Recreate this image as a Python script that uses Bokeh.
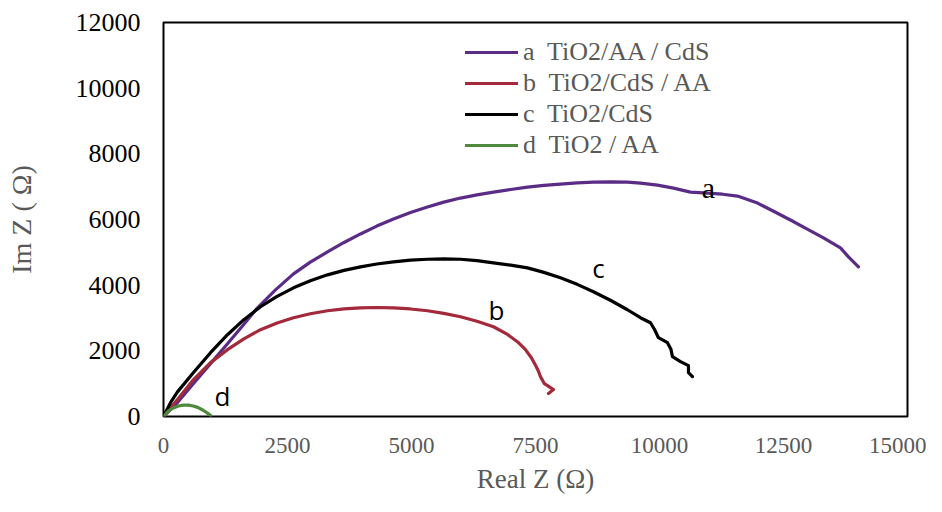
from bokeh.plotting import figure
from bokeh.models import FixedTicker, Legend, LegendItem, Range1d
from bokeh.core.properties import value
from bokeh.embed import file_html
from bokeh.resources import INLINE

# Series a: TiO2/AA / CdS
a_x = [0, 282, 605, 948, 1290, 1613, 1895, 2258, 2621, 2960, 3306, 3640, 3972, 4300, 4637,
       4980, 5322, 5650, 5988, 6320, 6653, 7000, 7338, 7670, 8003, 8340, 8668, 9010, 9354,
       9616, 9959, 10282, 10624, 10967, 11270, 11572, 11975, 12300, 12640, 12970, 13306,
       13648, 13810, 14011]
a_y = [0, 425, 1003, 1610, 2218, 2795, 3311, 3858, 4344, 4700, 5013, 5300, 5560, 5800, 6015,
       6210, 6380, 6530, 6653, 6750, 6836, 6915, 6987, 7040, 7079, 7115, 7139, 7145, 7139,
       7109, 7048, 6957, 6835, 6805, 6770, 6714, 6501, 6250, 5985, 5715, 5438,
       5134, 4861, 4557]
# Series b: TiO2/CdS / AA
b_x = [0, 282, 605, 948, 1290, 1620, 1956, 2290, 2621, 2960, 3306, 3640, 3972, 4300, 4637,
       4980, 5322, 5650, 5988, 6320, 6653, 6935, 7140, 7298, 7420, 7500, 7560, 7600, 7680,
       7802, 7862, 7762]
b_y = [0, 516, 1124, 1641, 2035, 2365, 2643, 2850, 3008, 3130, 3220, 3280, 3311, 3320, 3311,
       3275, 3220, 3140, 3038, 2900, 2734, 2500, 2270, 2035, 1780, 1560, 1380, 1215, 1000,
       880, 820, 699]
# Series c: TiO2/CdS
c_x = [0, 141, 282, 605, 948, 1290, 1620, 1956, 2290, 2621, 2960, 3306, 3640, 3972, 4300,
       4637, 4980, 5322, 5650, 5988, 6320, 6653, 7000, 7338, 7670, 8003, 8340, 8668, 9010,
       9354, 9616, 9818, 9900, 9979, 10161, 10230, 10261, 10423, 10584, 10584, 10665]
c_y = [0, 420, 750, 1337, 1944, 2491, 2950, 3342, 3660, 3919, 4135, 4314, 4450, 4557, 4645,
       4709, 4760, 4790, 4800, 4790, 4745, 4679, 4610, 4527, 4390, 4223, 4025, 3798, 3540,
       3251, 3008, 2856, 2650, 2400, 2248, 2050, 1823, 1671, 1549, 1337, 1215]
# Series d: TiO2 / AA
d_x = [0, 100, 200, 300, 400, 500, 600, 700, 800, 900, 950]
d_y = [0, 170, 260, 320, 345, 345, 320, 270, 190, 90, 30]

series_labels = ["a\u00a0 TiO2/AA / CdS", "b\u00a0 TiO2/CdS / AA", "c\u00a0 TiO2/CdS", "d\u00a0 TiO2 / AA"]
curve_letters = ["a", "b", "c", "d"]
x_ticks = [0, 2500, 5000, 7500, 10000, 12500, 15000]
y_ticks = [0, 2000, 4000, 6000, 8000, 10000, 12000]

colors = ["#5b2c86", "#a3293b", "#000000", "#4f8a3c"]

p = figure(width=926, height=496, output_backend="svg", toolbar_location=None,
           x_range=Range1d(0, 15000), y_range=Range1d(0, 12000),
           min_border_left=163, min_border_top=22, min_border_right=19, min_border_bottom=79)
p.grid.visible = False
p.outline_line_color = "black"
p.outline_line_width = 2
p.background_fill_color = "white"
p.border_fill_color = "white"

for ax in (p.xaxis[0], p.yaxis[0]):
    ax.axis_line_color = None
    ax.major_tick_in = 0
    ax.major_tick_out = 0
    ax.minor_tick_line_color = None
    ax.major_label_text_font = "Liberation Serif"
    ax.axis_label_text_font = "Liberation Serif"
    ax.axis_label_text_font_style = "normal"
    ax.axis_label_text_color = "#595959"

p.xaxis[0].ticker = FixedTicker(ticks=x_ticks)
p.yaxis[0].ticker = FixedTicker(ticks=y_ticks)
p.xaxis[0].major_label_text_font_size = "23px"
p.yaxis[0].major_label_text_font_size = "26px"
p.xaxis[0].axis_label_text_font_size = "27px"
p.yaxis[0].axis_label_text_font_size = "28px"
p.xaxis[0].major_label_text_color = "#595959"
p.yaxis[0].major_label_text_color = "#000000"
p.xaxis[0].major_label_standoff = 21
p.yaxis[0].major_label_standoff = 23
p.xaxis[0].axis_label = "Real Z (\u03a9)"
p.yaxis[0].axis_label = "Im Z ( \u03a9)"
p.xaxis[0].axis_label_standoff = 8
p.yaxis[0].axis_label_standoff = 36

renderers = []
for xs, ys, c in zip([a_x, b_x, c_x, d_x], [a_y, b_y, c_y, d_y], colors):
    r = p.line(xs, ys, line_color=c, line_width=3.2, line_join="round", line_cap="round")
    renderers.append(r)

legend = Legend(items=[LegendItem(label=l, renderers=[r]) for l, r in zip(series_labels, renderers)],
                location=(302, 256), padding=0, margin=0, spacing=1,
                glyph_width=53, glyph_height=26, label_height=26, label_standoff=5,
                label_text_font="Liberation Serif", label_text_font_size="26px",
                label_text_color="#595959", border_line_alpha=0, background_fill_alpha=0)
p.add_layout(legend)

# curve letter annotations
lab_x = [10987, 6713, 8770, 1190]
lab_y = [6987, 3250, 4527, 638]
p.text(x=[lab_x[0]], y=[lab_y[0]], text=[curve_letters[0]], text_font=value("Liberation Serif"),
       text_font_size="30px", text_align="center", text_baseline="middle", text_color="black")
p.text(x=lab_x[1:], y=lab_y[1:], text=curve_letters[1:], text_font=value("Open Sans"),
       text_font_size="26px", text_align="center", text_baseline="middle", text_color="black")

open("out.html", "w").write(file_html(p, INLINE))
